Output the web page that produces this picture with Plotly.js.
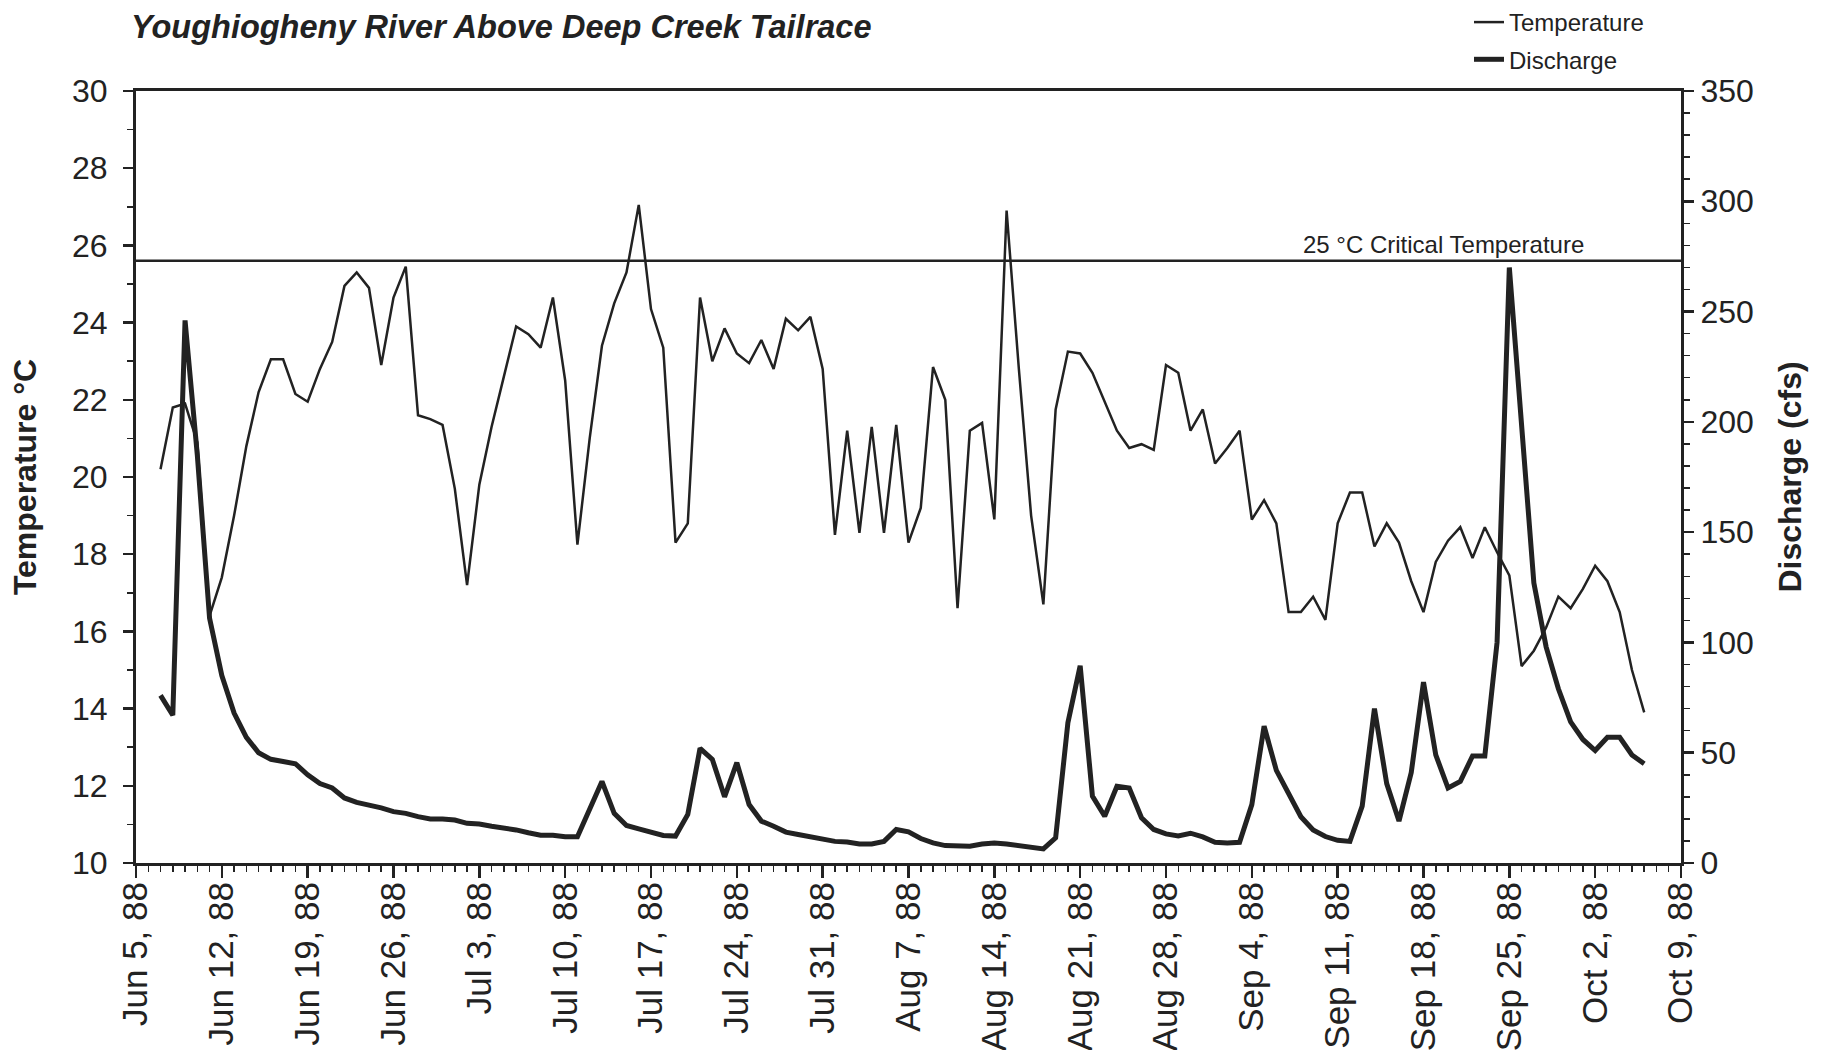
<!DOCTYPE html>
<html><head><meta charset="utf-8">
<script src="https://cdn.plot.ly/plotly-3.0.1.min.js"></script>
<style>html,body{margin:0;padding:0;background:#fff;} #chart{width:1829px;height:1050px;}</style>
</head><body><div id="chart"></div>
<script>
const dates = [
'1988-06-07','1988-06-08','1988-06-09','1988-06-10','1988-06-11','1988-06-12','1988-06-13','1988-06-14','1988-06-15','1988-06-16','1988-06-17','1988-06-18','1988-06-19','1988-06-20','1988-06-21','1988-06-22','1988-06-23','1988-06-24','1988-06-25','1988-06-26','1988-06-27','1988-06-28','1988-06-29','1988-06-30',
'1988-07-01','1988-07-02','1988-07-03','1988-07-04','1988-07-05','1988-07-06','1988-07-07','1988-07-08','1988-07-09','1988-07-10','1988-07-11','1988-07-12','1988-07-13','1988-07-14','1988-07-15','1988-07-16','1988-07-17','1988-07-18','1988-07-19','1988-07-20','1988-07-21','1988-07-22','1988-07-23','1988-07-24','1988-07-25','1988-07-26','1988-07-27','1988-07-28','1988-07-29','1988-07-30','1988-07-31',
'1988-08-01','1988-08-02','1988-08-03','1988-08-04','1988-08-05','1988-08-06','1988-08-07','1988-08-08','1988-08-09','1988-08-10','1988-08-11','1988-08-12','1988-08-13','1988-08-14','1988-08-15','1988-08-16','1988-08-17','1988-08-18','1988-08-19','1988-08-20','1988-08-21','1988-08-22','1988-08-23','1988-08-24','1988-08-25','1988-08-26','1988-08-27','1988-08-28','1988-08-29','1988-08-30','1988-08-31',
'1988-09-01','1988-09-02','1988-09-03','1988-09-04','1988-09-05','1988-09-06','1988-09-07','1988-09-08','1988-09-09','1988-09-10','1988-09-11','1988-09-12','1988-09-13','1988-09-14','1988-09-15','1988-09-16','1988-09-17','1988-09-18','1988-09-19','1988-09-20','1988-09-21','1988-09-22','1988-09-23','1988-09-24','1988-09-25','1988-09-26','1988-09-27','1988-09-28','1988-09-29','1988-09-30',
'1988-10-01','1988-10-02','1988-10-03','1988-10-04','1988-10-05','1988-10-06'
];
const temperature = [
20.2,21.8,21.9,20.9,16.4,17.4,19.0,20.8,22.2,23.05,23.05,22.15,21.95,22.8,23.5,24.95,25.3,24.9,22.9,24.65,25.45,21.6,21.5,21.35,
19.7,17.2,19.8,21.3,22.6,23.9,23.7,23.35,24.65,22.5,18.25,21.0,23.4,24.5,25.3,27.05,24.35,23.35,18.3,18.8,24.65,23.0,23.85,23.2,22.95,23.55,22.8,24.1,23.8,24.15,22.8,
18.5,21.2,18.55,21.3,18.55,21.35,18.3,19.2,22.85,22.0,16.6,21.2,21.4,18.9,26.9,22.8,19.0,16.7,21.75,23.25,23.2,22.7,21.95,21.2,20.75,20.85,20.7,22.9,22.7,21.2,21.75,
20.35,20.75,21.2,18.9,19.4,18.8,16.5,16.5,16.9,16.3,18.8,19.6,19.6,18.2,18.8,18.3,17.3,16.5,17.8,18.35,18.7,17.9,18.7,18.05,17.45,15.1,15.5,16.1,16.9,16.6,
17.1,17.7,17.3,16.5,15.0,13.9
];
const discharge = [
76,67,246,185,111,85,68,57,50,47,46,45,40,36,34,29.5,27.5,26.3,25,23.3,22.5,21,20,20,
19.5,18,17.7,16.7,16,15,13.7,12.6,12.6,11.9,11.9,24,37,22.5,17,15.5,14,12.5,12.2,22,52,47,30,45.5,26.5,19,16.7,14,12.9,11.7,10.6,
9.8,9.5,8.6,8.6,9.8,15.2,14.1,11.1,9.1,7.9,7.6,7.6,8.6,9.1,8.6,7.9,7.6,6.4,11.4,63.6,89.4,30.3,21.2,34.8,34,20.5,15.2,13.2,12.3,13.5,11.8,
9.4,9.1,9.4,26.5,62,42,32,21,15,12,10.3,9.8,25.8,70,36,19,41,82,49,34,37,48.5,48.5,100,270,195,127,98,79,64,
56,51,57,57,49,45
];
const tickDates = ['1988-06-05','1988-06-12','1988-06-19','1988-06-26','1988-07-03','1988-07-10','1988-07-17','1988-07-24','1988-07-31','1988-08-07','1988-08-14','1988-08-21','1988-08-28','1988-09-04','1988-09-11','1988-09-18','1988-09-25','1988-10-02','1988-10-09'];
const tickLabels = ['Jun 5, 88','Jun 12, 88','Jun 19, 88','Jun 26, 88','Jul 3, 88','Jul 10, 88','Jul 17, 88','Jul 24, 88','Jul 31, 88','Aug 7, 88','Aug 14, 88','Aug 21, 88','Aug 28, 88','Sep 4, 88','Sep 11, 88','Sep 18, 88','Sep 25, 88','Oct 2, 88','Oct 9, 88'];
const criticalTemp = 25.6;
const criticalLabel = '25 °C Critical Temperature';

const ink = '#222';
const fam = 'Liberation Sans, Arial, sans-serif';

const traces = [
  {x: dates, y: temperature, name: 'Temperature', type: 'scatter', mode: 'lines',
   line: {color: ink, width: 2.5}, yaxis: 'y', legendgroup: 'a'},
  {x: dates, y: discharge, name: 'Discharge', type: 'scatter', mode: 'lines',
   line: {color: ink, width: 5}, yaxis: 'y2', legendgroup: 'b'}
];

const axisCommon = {
  showline: true, linewidth: 3, linecolor: ink, showgrid: false, zeroline: false,
  ticks: 'outside', tickcolor: ink, tickwidth: 2.5, automargin: false,
  tickfont: {family: fam, size: 32, color: ink}
};

const layout = {
  width: 1829, height: 1050,
  paper_bgcolor: '#fff', plot_bgcolor: '#fff',
  margin: {l: 136, r: 148, t: 91, b: 187},
  font: {family: fam, color: ink},
  title: {text: 'Youghiogheny River Above Deep Creek Tailrace',
    x: 131/1829, xanchor: 'left', xref: 'container', y: 1 - 27/1050, yanchor: 'middle', yref: 'container',
    font: {family: fam, size: 32.5, weight: 'bold', style: 'italic', color: ink}},
  showlegend: true,
  legend: {xref: 'paper', x: (1469 - 136) / 1545, xanchor: 'left', yref: 'container', y: 1.006, yanchor: 'top',
    bgcolor: 'rgba(0,0,0,0)', font: {family: fam, size: 24, color: ink}, tracegroupgap: 3},
  xaxis: Object.assign({}, axisCommon, {
    type: 'date', range: ['1988-06-05', '1988-10-09'], mirror: true,
    tickmode: 'array', tickvals: tickDates, ticktext: tickLabels, tickangle: -90,
    ticklen: 12, ticklabelstandoff: -10,
    tickfont: {family: fam, size: 35, color: ink},
    minor: {tickmode: 'linear', tick0: '1988-06-05', dtick: 86400000, ticks: 'outside',
      ticklen: 6, tickwidth: 1.5, tickcolor: ink, showgrid: false}
  }),
  yaxis: Object.assign({}, axisCommon, {
    range: [10, 30], tickmode: 'linear', tick0: 10, dtick: 2, ticklen: 10, mirror: true,
    ticklabelstandoff: 9,
    minor: {tickmode: 'linear', tick0: 10, dtick: 1, ticks: 'outside', ticklen: 6, tickwidth: 1.5, tickcolor: ink, showgrid: false},
    title: {text: 'Temperature °C', standoff: 26, font: {family: fam, size: 32, weight: 'bold', color: ink}}
  }),
  yaxis2: Object.assign({}, axisCommon, {
    overlaying: 'y', side: 'right', anchor: 'x',
    range: [0, 350], tickmode: 'linear', tick0: 0, dtick: 50, ticklen: 10,
    ticklabelstandoff: 0,
    minor: {tickmode: 'linear', tick0: 0, dtick: 10, ticks: 'outside', ticklen: 6, tickwidth: 1.5, tickcolor: ink, showgrid: false},
    title: {text: 'Discharge (cfs)', standoff: 26, font: {family: fam, size: 32, weight: 'bold', color: ink}}
  }),
  shapes: [{type: 'line', xref: 'paper', x0: 0, x1: 1, yref: 'y', y0: criticalTemp, y1: criticalTemp,
    line: {color: ink, width: 2.5}}],
  annotations: [{xref: 'paper', x: 0.846, xanchor: 'center', yref: 'y', y: criticalTemp, yanchor: 'bottom', yshift: 1,
    text: criticalLabel, showarrow: false, font: {family: fam, size: 24, color: ink}}]
};

Plotly.newPlot('chart', traces, layout, {displayModeBar: false, staticPlot: true});
</script>
</body></html>
